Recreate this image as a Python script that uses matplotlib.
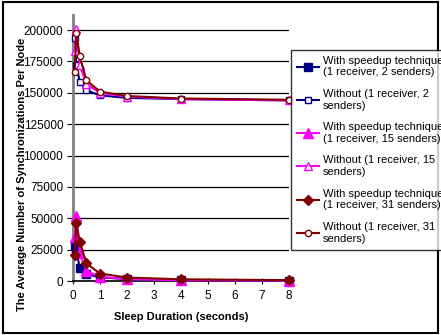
import numpy as np
import matplotlib
matplotlib.use("Agg")
import matplotlib.pyplot as plt
from matplotlib.patches import Rectangle

plt.rcParams['font.family'] = ['Liberation Sans', 'DejaVu Sans']

# sleep durations (seconds)
sleep = [0.0625, 0.125, 0.25, 0.5, 1, 2, 4, 8]

# average number of synchronizations per node
with_2 = [29000, 24000, 10500, 5500, 3000, 1500, 800, 400]
without_2 = [194000, 172000, 159000, 152000, 148000, 146000, 145000, 144000]
with_15 = [35000, 52000, 22000, 8000, 3500, 1500, 700, 350]
without_15 = [183000, 201000, 172000, 157000, 150000, 147000, 145000, 144000]
with_31 = [21000, 46000, 31500, 14000, 6000, 2800, 1400, 700]
without_31 = [167000, 198000, 179000, 160000, 151000, 147500, 145500, 144500]

labels = ["With speedup technique\n(1 receiver, 2 senders)",
          "Without (1 receiver, 2\nsenders)",
          "With speedup technique\n(1 receiver, 15 senders)",
          "Without (1 receiver, 15\nsenders)",
          "With speedup technique\n(1 receiver, 31 senders)",
          "Without (1 receiver, 31\nsenders)"]

navy = '#000080'
magenta = '#ff00ff'
maroon = '#800000'

fig = plt.figure(figsize=(4.41, 3.35), dpi=100)
ax = fig.add_axes([0.1655, 0.161, 0.4895, 0.794])

series = [
    (with_2, navy, 's', navy, 5.5),
    (without_2, navy, 's', 'white', 5),
    (with_15, magenta, '^', magenta, 6.5),
    (without_15, magenta, '^', 'white', 5.5),
    (with_31, maroon, 'D', maroon, 5),
    (without_31, maroon, 'o', 'white', 4.5),
]
for (vals, col, mk, fc, ms), lab in zip(series, labels):
    ax.plot(sleep, vals, color=col, marker=mk, markerfacecolor=fc,
            markeredgecolor=col, markersize=ms, lw=1.5, label=lab,
            clip_on=False, zorder=3)

ax.set_xlim(0, 8)
ax.set_ylim(0, 212000)
ax.set_xticks(range(0, 9))
ax.set_yticks(np.arange(0, 200001, 25000))
ax.yaxis.grid(True, color='black', lw=0.9)
ax.set_axisbelow(True)

for s in ['top', 'right']:
    ax.spines[s].set_visible(False)
ax.spines['left'].set_color('#808080')
ax.spines['left'].set_linewidth(2)
ax.spines['bottom'].set_linewidth(1.2)
ax.tick_params(axis='x', direction='inout', length=5, labelsize=8.5, pad=4)
ax.tick_params(axis='y', direction='out', length=4, labelsize=8.5, pad=3,
               color='black')

ax.set_xlabel('Sleep Duration (seconds)', fontsize=8, fontweight='bold',
              labelpad=7)
ax.set_ylabel('The Average Number of Synchronizations Per Node', fontsize=8,
              fontweight='bold')
ax.yaxis.set_label_coords(-0.215, 0.40)

leg = fig.legend(loc='upper left', bbox_to_anchor=(0.66, 0.852),
                 fontsize=8, frameon=True, fancybox=False, handlelength=2.0,
                 handletextpad=0.3, labelspacing=1.05, borderpad=0.55,
                 borderaxespad=0)
leg.get_frame().set_edgecolor('black')
leg.get_frame().set_linewidth(1.0)

fig.patches.append(Rectangle((0.007, 0.006), 0.986, 0.988,
                             transform=fig.transFigure, fill=False,
                             edgecolor='black', lw=1.5))

fig.savefig('out.png', dpi=100)
